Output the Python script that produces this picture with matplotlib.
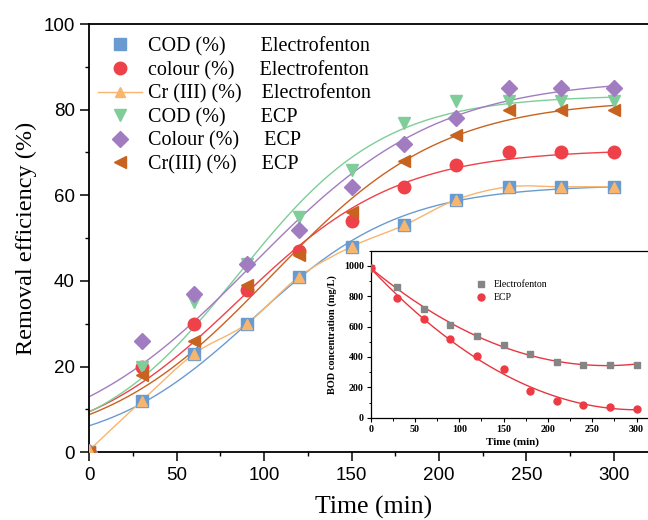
import numpy as np
import matplotlib
matplotlib.use("Agg")
import matplotlib.pyplot as plt
from matplotlib.path import Path
from matplotlib.patches import PathPatch
from matplotlib.ticker import MultipleLocator
from matplotlib.lines import Line2D

# ---------------- data ----------------
time = [0, 30, 60, 90, 120, 150, 180, 210, 240, 270, 300]
cod_ef = [0, 12, 23, 30, 41, 48, 53, 59, 62, 62, 62]
colour_ef = [0, 20, 30, 38, 47, 54, 62, 67, 70, 70, 70]
cr_ef = [0.5, 12, 23, 30, 41, 48, 53, 59, 62, 62, 62]
cod_ecp = [0, 20, 35, 44, 55, 66, 77, 82, 82, 82, 82]
colour_ecp = [0, 26, 37, 44, 52, 62, 72, 78, 85, 85, 85]
cr_ecp = [0, 18, 26, 39, 46, 56, 68, 74, 80, 80, 80]

bod_time = [0, 30, 60, 90, 120, 150, 180, 210, 240, 270, 300]
bod_ef = [985, 862, 718, 609, 538, 476, 418, 364, 349, 349, 349]
bod_ecp = [987, 789, 647, 520, 409, 318, 178, 107, 84, 73, 60]

labels = ["COD (%)       Electrofenton",
          "colour (%)     Electrofenton",
          "Cr (III) (%)    Electrofenton",
          "COD (%)       ECP",
          "Colour (%)     ECP",
          "Cr(III) (%)     ECP"]

# ---------------- styles ----------------
C_BLUE = "#6a9bd0"
C_RED = "#ee4149"
C_ORANGE = "#f8b56e"
C_GREEN = "#7fcd98"
C_PURPLE = "#a27cc0"
C_BROWN = "#c8621f"

plt.rcParams["font.family"] = ["Liberation Serif", "DejaVu Serif"]
plt.rcParams["mathtext.fontset"] = "stix"


def logistic(p, x):
    a, b, k = p
    z = np.clip(-k * x, -60, 60)
    return a / (1.0 + b * np.exp(z))


def lm_fit(func, x, y, p0, n_iter=500):
    x = np.asarray(x, float)
    y = np.asarray(y, float)
    p = np.array(p0, float)
    lam = 1e-2

    def res(q):
        return func(q, x) - y

    r = res(p)
    cost = r @ r
    for _ in range(n_iter):
        J = np.empty((len(x), len(p)))
        for j in range(len(p)):
            h = 1e-6 * max(1e-3, abs(p[j]))
            dp = np.zeros_like(p)
            dp[j] = h
            J[:, j] = (res(p + dp) - r) / h
        A = J.T @ J
        g = J.T @ r
        try:
            step = np.linalg.solve(A + lam * np.diag(np.diag(A) + 1e-12), -g)
        except np.linalg.LinAlgError:
            lam *= 10
            continue
        pn = p + step
        rn = res(pn)
        cn = rn @ rn
        if np.isfinite(cn) and cn < cost:
            p, r, cost = pn, rn, cn
            lam = max(lam * 0.3, 1e-9)
        else:
            lam *= 10
    return p


def smooth_path(xs, ys):
    """Catmull-Rom style smooth connection through points (as bezier path)."""
    pts = np.column_stack([xs, ys]).astype(float)
    n = len(pts)
    verts = [pts[0]]
    codes = [Path.MOVETO]
    for i in range(n - 1):
        p0 = pts[i - 1] if i > 0 else pts[i]
        p1 = pts[i]
        p2 = pts[i + 1]
        p3 = pts[i + 2] if i + 2 < n else pts[i + 1]
        c1 = p1 + (p2 - p0) / 6.0
        c2 = p2 - (p3 - p1) / 6.0
        verts += [c1, c2, p2]
        codes += [Path.CURVE4] * 3
    return Path(verts, codes)


fig = plt.figure(figsize=(6.48, 5.2), dpi=100)
W, H = 648.0, 520.0

# main axes (right side clipped by figure edge as in reference)
x_left, y_bottom, y_top = 89.3, 452.3, 24.0
px_per_min = 1.748
xmax = 330
ax = fig.add_axes([x_left / W, (H - y_bottom) / H,
                   xmax * px_per_min / W, (y_bottom - y_top) / H])
ax.set_xlim(0, xmax)
ax.set_ylim(0, 100)

t = np.asarray(time, float)
tf = np.linspace(0, 300, 300)

fit_series = [(cod_ef, C_BLUE), (colour_ef, C_RED), (cod_ecp, C_GREEN),
              (colour_ecp, C_PURPLE), (cr_ecp, C_BROWN)]
for ys, col in fit_series:
    y = np.asarray(ys, float)
    p = lm_fit(logistic, t, y, [y.max(), 10.0, 0.02])
    ax.plot(tf, logistic(p, tf), color=col, lw=1.0, zorder=2)

ax.add_patch(PathPatch(smooth_path(time, cr_ef), facecolor="none",
                       edgecolor=C_ORANGE, lw=1.0, zorder=2))

ax.plot(time, cod_ef, ls="none", marker="s", ms=8, color=C_BLUE, zorder=3)
ax.plot(time, colour_ef, ls="none", marker="o", ms=9, color=C_RED, zorder=3)
ax.plot(time, cr_ef, ls="none", marker="^", ms=7, color=C_ORANGE, zorder=4)
ax.plot(time, cod_ecp, ls="none", marker="v", ms=9, color=C_GREEN, zorder=3)
ax.plot(time, colour_ecp, ls="none", marker="D", ms=8, color=C_PURPLE, zorder=3)
ax.plot(time, cr_ecp, ls="none", marker="<", ms=9, color=C_BROWN, zorder=3)

ax.xaxis.set_major_locator(MultipleLocator(50))
ax.xaxis.set_minor_locator(MultipleLocator(25))
ax.yaxis.set_major_locator(MultipleLocator(20))
ax.yaxis.set_minor_locator(MultipleLocator(10))
ax.tick_params(which="major", direction="out", length=6.5, width=1.1,
               labelsize=13.5, pad=4, top=False, right=False)
ax.tick_params(which="minor", direction="out", length=3.2, width=1.0,
               top=False, right=False)
for lab in ax.get_xticklabels() + ax.get_yticklabels():
    lab.set_family(["Liberation Sans", "DejaVu Sans"])
for s in ax.spines.values():
    s.set_linewidth(1.3)
ax.spines["right"].set_visible(False)

ax.set_xlabel("Time (min)", fontsize=18.5)
ax.set_ylabel("Removal efficiency (%)", fontsize=17.5)
ax.xaxis.set_label_coords((374 - x_left) / (xmax * px_per_min),
                          -(496 - y_bottom) / (y_bottom - y_top))
ax.yaxis.set_label_coords((37 - x_left) / (xmax * px_per_min), 0.5)

handles = [
    Line2D([], [], ls="none", marker="s", ms=8, color=C_BLUE),
    Line2D([], [], ls="none", marker="o", ms=9, color=C_RED),
    Line2D([], [], ls="-", lw=1.0, marker="^", ms=7, color=C_ORANGE),
    Line2D([], [], ls="none", marker="v", ms=9, color=C_GREEN),
    Line2D([], [], ls="none", marker="D", ms=8, color=C_PURPLE),
    Line2D([], [], ls="none", marker="<", ms=9, color=C_BROWN),
]
fig.legend(handles, labels, loc="upper left",
           bbox_to_anchor=(98 / W, 1 - 37 / H), bbox_transform=fig.transFigure,
           frameon=False, fontsize=14.5, handlelength=2.2, handletextpad=0.3,
           labelspacing=0.21, borderpad=0, borderaxespad=0)

# ---------------- inset ----------------
ix_left, iy_bottom, iy_top = 370.7, 417.7, 250.7
ipx = 0.886
ixmax = 320
axi = fig.add_axes([ix_left / W, (H - iy_bottom) / H,
                    ixmax * ipx / W, (iy_bottom - iy_top) / H], zorder=5)
axi.set_facecolor("white")
axi.set_xlim(0, ixmax)
axi.set_ylim(0, 1100)

bt = np.asarray(bod_time, float)
bf = np.linspace(0, 300, 300)
for ys in (bod_ef, bod_ecp):
    c = np.polyfit(bt, np.asarray(ys, float), 2)
    axi.plot(bf, np.polyval(c, bf), color="#e8363f", lw=1.0, zorder=2)
axi.plot(bod_time, bod_ef, ls="none", marker="s", ms=4.5, color="#858585",
         zorder=3, label="Electrofenton")
axi.plot(bod_time, bod_ecp, ls="none", marker="o", ms=5, color="#ec3b45",
         zorder=4, label="ECP")

axi.xaxis.set_major_locator(MultipleLocator(50))
axi.xaxis.set_minor_locator(MultipleLocator(25))
axi.yaxis.set_major_locator(MultipleLocator(200))
axi.yaxis.set_minor_locator(MultipleLocator(100))
axi.tick_params(which="major", direction="out", length=3, width=0.8,
                labelsize=7.2, pad=2, top=False, right=False)
axi.tick_params(which="minor", direction="out", length=1.8, width=0.7,
                top=False, right=False)
for lab in axi.get_xticklabels() + axi.get_yticklabels():
    lab.set_fontweight("bold")
for s in axi.spines.values():
    s.set_linewidth(0.9)
axi.spines["right"].set_visible(False)
axi.set_xlabel("Time (min)", fontsize=8, fontweight="bold", labelpad=3)
axi.set_ylabel("BOD concentration (mg/L)", fontsize=7.5, fontweight="bold",
               labelpad=5)
axi.legend(loc="upper left", bbox_to_anchor=((476 - ix_left) / (ixmax * ipx),
                                              (iy_bottom - 280) / (iy_bottom - iy_top)),
           frameon=False, fontsize=7, handlelength=1.0, handletextpad=0.8,
           labelspacing=0.45, borderpad=0, borderaxespad=0)

fig.savefig("out.png", dpi=100)
